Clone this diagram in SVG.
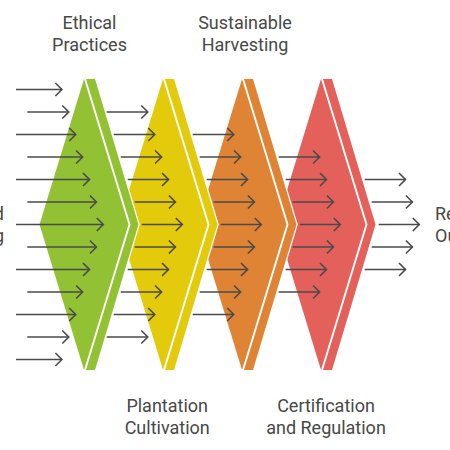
<svg xmlns="http://www.w3.org/2000/svg" width="450" height="450" viewBox="0 0 450 450">
<defs>
<style>
.lbl{font-family:Roboto,"Liberation Sans",sans-serif;font-size:18px;fill:#484848}
.bk{fill:#fff;stroke:#fff;stroke-width:2.5;stroke-linejoin:miter}
.ar line{stroke:#4a4a4a;stroke-width:1.6;marker-end:url(#ah)}
</style>
<marker id="ah" markerUnits="userSpaceOnUse" markerWidth="10" markerHeight="16" viewBox="0 0 10 16" refX="8" refY="8" orient="auto">
<path d="M1.5,1.5 L8,8 L1.5,14.5" fill="none" stroke="#4a4a4a" stroke-width="1.6"/>
</marker>
</defs>
<rect width="450" height="450" fill="#fff"/>

<g id="certification">
<polygon class="bk" points="276.5,224.5 321,79 332,79 375.5,224.5 332,370 321,370"/>
<polygon fill="#E3605B" points="321,79 365.5,224.5 321,370 276.5,224.5"/>
<polygon fill="#E3605B" points="323,79 332,79 375.5,224.5 332,370 323,370 367.5,224.5"/>
<text class="lbl" text-anchor="middle" x="326" y="411.5">Certification</text>
<text class="lbl" text-anchor="middle" x="326" y="433.5">and Regulation</text>
</g>

<g id="harvesting">
<polygon class="bk" points="197.5,224.5 242,79 253,79 296.5,224.5 253,370 242,370"/>
<polygon fill="#DF8434" points="242,79 286.5,224.5 242,370 197.5,224.5"/>
<polygon fill="#DF8434" points="244,79 253,79 296.5,224.5 253,370 244,370 288.5,224.5"/>
<text class="lbl" text-anchor="middle" x="245" y="29">Sustainable</text>
<text class="lbl" text-anchor="middle" x="245" y="51">Harvesting</text>
</g>

<g id="plantation">
<polygon class="bk" points="118.5,224.5 163,79 174,79 217.5,224.5 174,370 163,370"/>
<polygon fill="#E3CB0C" points="163,79 207.5,224.5 163,370 118.5,224.5"/>
<polygon fill="#E3CB0C" points="165,79 174,79 217.5,224.5 174,370 165,370 209.5,224.5"/>
<text class="lbl" text-anchor="middle" x="167.2" y="411.5">Plantation</text>
<text class="lbl" text-anchor="middle" x="167.2" y="433.5">Cultivation</text>
</g>

<g id="ethical">
<polygon class="bk" points="39.5,224.5 84,79 95,79 138.5,224.5 95,370 84,370"/>
<polygon fill="#92C133" points="84,79 128.5,224.5 84,370 39.5,224.5"/>
<polygon fill="#92C133" points="86,79 95,79 138.5,224.5 95,370 86,370 130.5,224.5"/>
<text class="lbl" text-anchor="middle" x="89.5" y="29">Ethical</text>
<text class="lbl" text-anchor="middle" x="89.5" y="51">Practices</text>
</g>

<g id="input">
<text class="lbl" text-anchor="end" x="4" y="219.5">Unregulated</text>
<text class="lbl" text-anchor="end" x="4" y="241.5">Logging</text>
</g>

<g id="output">
<text class="lbl" x="435" y="219.5">Responsible</text>
<text class="lbl" x="435" y="241.5">Outcomes</text>
</g>

<g id="connectors" class="ar">
<line x1="16" y1="89.5" x2="61.9" y2="89.5"/>
<line x1="27.3" y1="112" x2="68.8" y2="112"/>
<line x1="16" y1="134.5" x2="75.7" y2="134.5"/>
<line x1="27.3" y1="157" x2="82.6" y2="157"/>
<line x1="16" y1="179.5" x2="89.5" y2="179.5"/>
<line x1="27.3" y1="202" x2="96.4" y2="202"/>
<line x1="16" y1="224.5" x2="103.3" y2="224.5"/>
<line x1="27.3" y1="247" x2="96.4" y2="247"/>
<line x1="16" y1="269.5" x2="89.5" y2="269.5"/>
<line x1="27.3" y1="292" x2="82.6" y2="292"/>
<line x1="16" y1="314.5" x2="75.7" y2="314.5"/>
<line x1="27.3" y1="337" x2="68.8" y2="337"/>
<line x1="16" y1="359.5" x2="61.9" y2="359.5"/>

<line x1="106.7" y1="112" x2="147.8" y2="112"/>
<line x1="113.7" y1="134.5" x2="154.7" y2="134.5"/>
<line x1="120.7" y1="157" x2="161.6" y2="157"/>
<line x1="127.7" y1="179.5" x2="168.5" y2="179.5"/>
<line x1="134.7" y1="202" x2="175.4" y2="202"/>
<line x1="141.7" y1="224.5" x2="182.3" y2="224.5"/>
<line x1="134.7" y1="247" x2="175.4" y2="247"/>
<line x1="127.7" y1="269.5" x2="168.5" y2="269.5"/>
<line x1="120.7" y1="292" x2="161.6" y2="292"/>
<line x1="113.7" y1="314.5" x2="154.7" y2="314.5"/>
<line x1="106.7" y1="337" x2="147.8" y2="337"/>

<line x1="192.7" y1="134.5" x2="233.7" y2="134.5"/>
<line x1="199.7" y1="157" x2="240.6" y2="157"/>
<line x1="206.7" y1="179.5" x2="247.5" y2="179.5"/>
<line x1="213.7" y1="202" x2="254.4" y2="202"/>
<line x1="220.7" y1="224.5" x2="261.3" y2="224.5"/>
<line x1="213.7" y1="247" x2="254.4" y2="247"/>
<line x1="206.7" y1="269.5" x2="247.5" y2="269.5"/>
<line x1="199.7" y1="292" x2="240.6" y2="292"/>
<line x1="192.7" y1="314.5" x2="233.7" y2="314.5"/>

<line x1="278.7" y1="157" x2="319.6" y2="157"/>
<line x1="285.7" y1="179.5" x2="326.5" y2="179.5"/>
<line x1="292.7" y1="202" x2="333.4" y2="202"/>
<line x1="299.7" y1="224.5" x2="340.3" y2="224.5"/>
<line x1="292.7" y1="247" x2="333.4" y2="247"/>
<line x1="285.7" y1="269.5" x2="326.5" y2="269.5"/>
<line x1="278.7" y1="292" x2="319.6" y2="292"/>

<line x1="364.7" y1="179.5" x2="405.5" y2="179.5"/>
<line x1="371.7" y1="202" x2="412.4" y2="202"/>
<line x1="378.7" y1="224.5" x2="419.3" y2="224.5"/>
<line x1="371.7" y1="247" x2="412.4" y2="247"/>
<line x1="364.7" y1="269.5" x2="405.5" y2="269.5"/>
</g>
</svg>
